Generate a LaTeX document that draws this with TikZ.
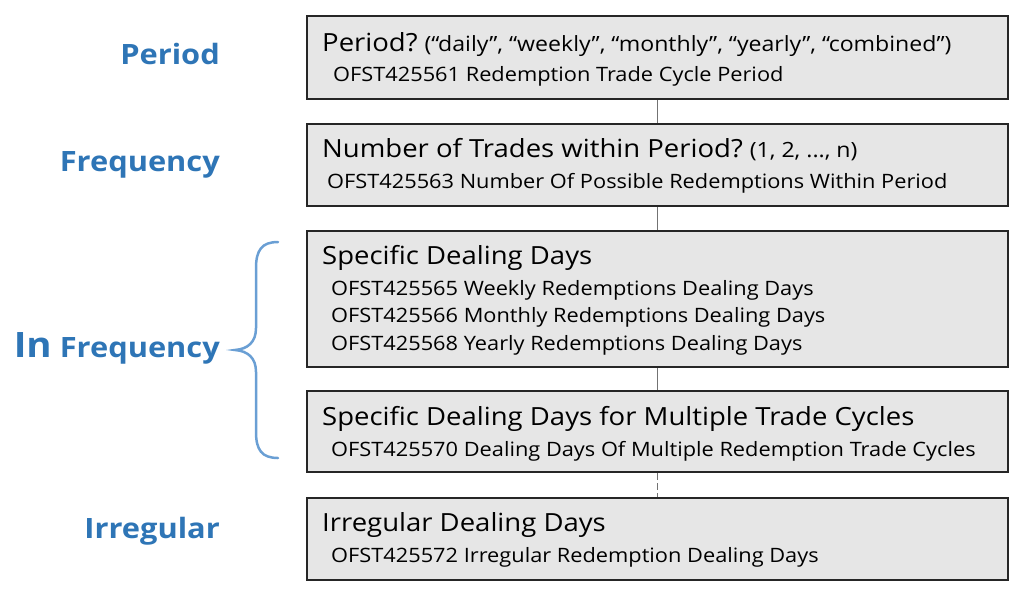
\documentclass[tikz,border=0pt]{standalone}
\usepackage{fontspec}
\setmainfont{Open Sans}[FakeStretch=1.1]
\definecolor{lbl}{HTML}{2E75B6}
\definecolor{brc}{HTML}{6A9FD4}
\definecolor{boxfill}{HTML}{E6E6E6}
\tikzset{
  box/.style={draw=black!85, line width=2pt, fill=boxfill, anchor=north west, minimum width=701pt, inner sep=0pt},
  ttl/.style={anchor=base west, inner sep=0pt, font=\fontsize{25}{28}\selectfont},
  sub/.style={anchor=base west, inner sep=0pt, font=\fontsize{19.8}{23}\selectfont},
  lab/.style={anchor=base east, inner sep=0pt, text=lbl, font=\fontsize{28}{32}\selectfont\bfseries},
  link/.style={draw=black!55, line width=0.8pt},
}
\newcommand{\paren}[1]{\hspace{7pt}{\fontsize{21}{24}\selectfont #1}}
\begin{document}
\begin{tikzpicture}[x=1pt,y=-1pt]
\useasboundingbox (0,0) rectangle (1024,592);
\node[box, minimum height=83pt] (b1) at (306,15) {};
\node[box, minimum height=82pt] (b2) at (306,123) {};
\node[box, minimum height=136pt] (b3) at (306,230) {};
\node[box, minimum height=81pt] (b4) at (306,390) {};
\node[box, minimum height=82pt] (b5) at (306,497) {};
\coordinate (cx) at (657,0);
\draw[link] (b1.south -| cx) -- (b2.north -| cx);
\draw[link] (b2.south -| cx) -- (b3.north -| cx);
\draw[link] (b3.south -| cx) -- (b4.north -| cx);
\draw[link, dash pattern=on 7pt off 3pt] (b4.south -| cx) -- (b5.north -| cx);

\node[ttl] (t1) at (322,51) {Period?\paren{(“daily”, “weekly”, “monthly”, “yearly”, “combined”)}};
\node[sub] (s1) at (333,81) {OFST425561 Redemption Trade Cycle Period};
\node[ttl] (t2) at (322,157) {Number of Trades within Period?\paren{(1, 2, ..., n)}};
\node[sub] (s2) at (327,188) {OFST425563 Number Of Possible Redemptions Within Period};
\node[ttl] (t3) at (322,264) {Specific Dealing Days};
\node[sub] (s3a) at (331,295) {OFST425565 Weekly Redemptions Dealing Days};
\node[sub] (s3b) at (331,322) {OFST425566 Monthly Redemptions Dealing Days};
\node[sub] (s3c) at (331,350) {OFST425568 Yearly Redemptions Dealing Days};
\node[ttl] (t4) at (322,425) {Specific Dealing Days for Multiple Trade Cycles};
\node[sub] (s4) at (331,456) {OFST425570 Dealing Days Of Multiple Redemption Trade Cycles};
\node[ttl] (t5) at (322,531) {Irregular Dealing Days};
\node[sub] (s5) at (331,562) {OFST425572 Irregular Redemption Dealing Days};

\node[lab] (l1) at (220,64) {Period};
\node[lab] (l2) at (220,171) {Frequency};
\node[lab] (l3) at (220,357) {{\fontsize{35}{38}\selectfont In} Frequency};
\node[lab] (l4) at (220,538) {Irregular};

\draw[brc, line width=2.5pt, line cap=round]
  (278,242) .. controls (262,242) and (256,250) .. (256,268)
  -- (256,328) .. controls (256,342) and (248,349) .. (235,350)
  .. controls (248,351) and (256,358) .. (256,372)
  -- (256,432) .. controls (256,450) and (262,458) .. (278,458);
\end{tikzpicture}
\end{document}
